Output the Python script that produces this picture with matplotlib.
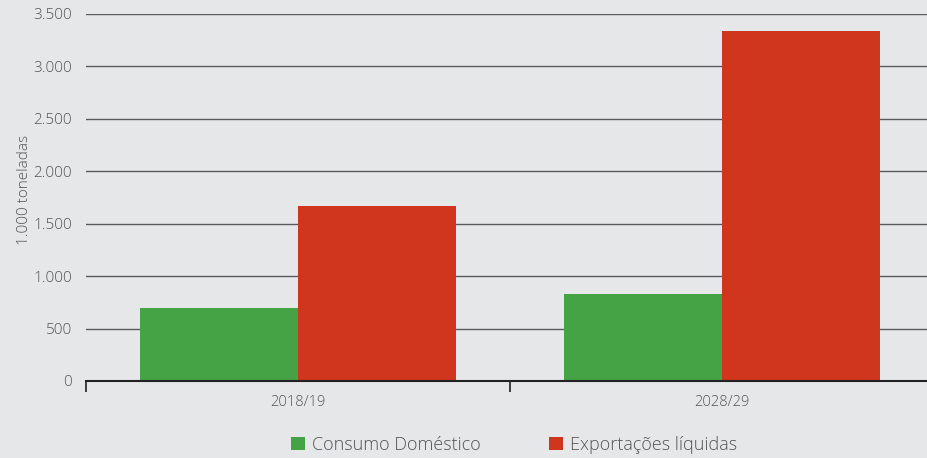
import matplotlib
matplotlib.use("Agg")
import matplotlib.pyplot as plt
from matplotlib.patches import Patch
from matplotlib.ticker import FuncFormatter, FixedLocator

categories = ["2018/19", "2028/29"]
series_names = ["Consumo Doméstico", "Exportações líquidas"]
consumo = [700, 830]
exportacoes = [1670, 3340]
y_ticks = [0, 500, 1000, 1500, 2000, 2500, 3000, 3500]
y_label = "1.000 toneladas"

bg = "#e6e7e9"
green = "#45a345"
red = "#d0351e"
text_color = "#555555"

plt.rcParams["font.family"] = ["Open Sans", "DejaVu Sans"]
plt.rcParams["font.weight"] = "light"

fig = plt.figure(figsize=(9.28, 4.58), dpi=100, facecolor=bg)
W, H = 928, 458
left_px, right_px, top_px, bottom_px = 86, 934, 14, 381
ax = fig.add_axes([left_px / W, 1 - bottom_px / H,
                   (right_px - left_px) / W, (bottom_px - top_px) / H])
ax.set_facecolor(bg)

x = list(range(len(categories)))
width = 0.372
ax.bar([i - width / 2 for i in x], consumo, width, color=green, zorder=3)
ax.bar([i + width / 2 for i in x], exportacoes, width, color=red, zorder=3)

ax.set_xlim(-0.5, len(categories) - 0.5)
ax.set_ylim(0, 3500)
ax.set_yticks(y_ticks)
ax.yaxis.set_major_formatter(FuncFormatter(lambda v, p: f"{int(v):,}".replace(",", ".")))
ax.tick_params(axis="y", length=0, pad=10, labelsize=11, labelcolor=text_color)
ax.yaxis.grid(True, color="#5a5a5a", linewidth=1.0, zorder=1)
ax.set_axisbelow(True)

ax.set_xticks(x)
ax.set_xticklabels(categories)
ax.tick_params(axis="x", which="major", length=0, pad=10, labelsize=10.5, labelcolor=text_color)
ax.xaxis.set_minor_locator(FixedLocator([i - 0.5 for i in range(len(categories) + 1)]))
ax.tick_params(axis="x", which="minor", length=8, width=1.2, color="#222222", direction="out")

for s in ["top", "right", "left"]:
    ax.spines[s].set_visible(False)
ax.spines["bottom"].set_color("#222222")
ax.spines["bottom"].set_linewidth(1.5)
ax.spines["bottom"].set_zorder(4)

ax.set_ylabel(y_label, fontsize=11, color=text_color, fontweight="light")
ax.yaxis.set_label_coords(-54 / (right_px - left_px), 0.52)

handles = [Patch(facecolor=green, label=series_names[0]),
           Patch(facecolor=red, label=series_names[1])]
fig.legend(handles=handles, loc="center", bbox_to_anchor=(514 / W, 1 - 445 / H),
           ncol=2, frameon=False, fontsize=13, labelcolor=text_color,
           handlelength=0.75, handleheight=0.75, handletextpad=0.4, columnspacing=3.8)

fig.savefig("out.png", dpi=100, facecolor=bg)
